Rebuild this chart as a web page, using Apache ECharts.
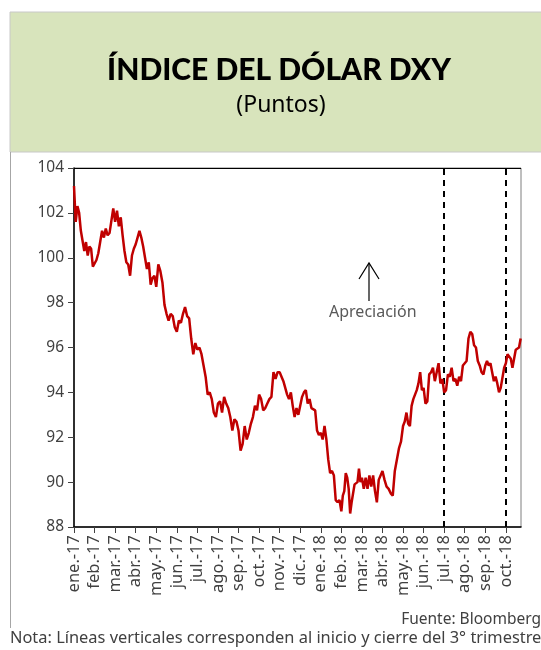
<!DOCTYPE html>
<html>
<head>
<meta charset="utf-8">
<script src="https://cdn.jsdelivr.net/npm/echarts@6/dist/echarts.min.js"></script>
<style>
  html, body { margin: 0; padding: 0; background: #fff; }
  #chart { width: 541px; height: 650px; }
</style>
</head>
<body>
<div id="chart"></div>
<script>
// meses del eje (inicio de cada mes)
const months = ['ene.-17', 'feb.-17', 'mar.-17', 'abr.-17', 'may.-17', 'jun.-17', 'jul.-17', 'ago.-17',
  'sep.-17', 'oct.-17', 'nov.-17', 'dic.-17', 'ene.-18', 'feb.-18', 'mar.-18', 'abr.-18', 'may.-18',
  'jun.-18', 'jul.-18', 'ago.-18', 'sep.-18', 'oct.-18']

// DXY, una fila por mes
const dxy2017 = [
  [103.2, 101.6, 102.3, 102.0, 101.2, 101.2, 100.3, 100.7, 100.1, 100.5, 100.4, 99.6],
  [99.6, 99.9, 100.2, 100.7, 101.2, 100.9, 101.3, 101.0, 101.1, 101.1, 102.2],
  [101.6, 102.1, 101.4, 101.8, 101.0, 100.3, 99.8, 99.7, 99.2, 100.1, 100.4],
  [100.6, 100.9, 101.2, 100.9, 100.5, 100.0, 99.5, 99.8, 98.8, 99.1, 99.2],
  [98.7, 99.7, 99.4, 98.9, 97.9, 97.5, 97.2, 97.5, 97.4, 96.9],
  [96.7, 97.2, 97.1, 97.5, 97.8, 97.4, 97.3, 96.4, 95.7, 96.2],
  [95.9, 96.0, 95.7, 95.2, 94.7, 93.9, 94.0, 93.7, 93.1, 92.9],
  [93.5, 93.6, 93.1, 93.8, 93.5, 93.3, 92.9, 92.3, 92.8, 92.7],
  [92.3, 91.4, 91.7, 92.5, 91.9, 92.2, 92.6, 92.9, 93.4, 93.2],
  [93.9, 93.7, 93.2, 93.3, 93.5, 93.7, 93.8, 94.9, 94.6, 94.9],
  [94.9, 94.9, 94.5, 94.5, 93.9, 93.7, 94.0, 93.4, 92.9, 93.3, 93.0],
  [93.4, 93.8, 94.0, 94.1, 93.5, 93.7, 93.3, 93.3, 93.2, 92.3, 92.1]
]
const dxy2018 = [
  [92.2, 91.9, 92.5, 91.9, 91.0, 90.4, 90.5, 90.3, 89.2, 89.1, 89.2],
  [88.7, 89.4, 89.6, 90.4, 90.2, 89.7, 88.6, 89.1, 89.1, 89.9, 89.9, 90.0, 90.6, 90.0],
  [90.2, 89.7, 90.2, 89.7, 90.3, 89.8, 90.3, 89.6, 89.1, 90.1, 90.1],
  [90.5, 90.1, 89.8, 89.7, 89.5, 89.4, 90.5, 91.0, 91.5, 91.8],
  [92.5, 92.7, 93.1, 92.6, 92.5, 93.4, 93.7, 93.7, 94.1, 94.4, 94.9, 94.1],
  [94.2, 93.5, 93.6, 94.8, 94.9, 95.1, 94.5, 94.9, 95.3, 94.4, 94.6],
  [94.0, 94.1, 94.8, 94.7, 95.1, 94.5, 94.6, 94.3, 94.7, 94.5, 95.2],
  [95.3, 95.4, 96.4, 96.7, 96.6, 96.1, 96.0, 95.4, 95.2, 94.9, 94.8],
  [95.2, 95.4, 95.2, 95.3, 94.9, 94.5, 94.7, 94.4, 94.0, 94.2, 94.2, 95.1],
  [95.3, 95.7, 95.7, 95.5, 95.1, 95.1, 95.9, 95.9, 96.0, 96.4]
]
// octubre 2018 sólo llega hasta ~día 23
const lastMonthSpan = 0.8
// inicio y cierre del 3er trimestre
const quarterMarks = ['jul.-18', 'oct.-18']

const rows = dxy2017.concat(dxy2018)
const seriesData = []
rows.forEach((vals, m) => {
  const span = m === rows.length - 1 ? lastMonthSpan : 1
  vals.forEach((v, j) => {
    seriesData.push([m + (j / vals.length) * span, v])
  })
})
const xMax = rows.length - 1 + lastMonthSpan * 0.92

const chart = echarts.init(document.getElementById('chart'))
chart.setOption({
  animation: false,
  title: [
    {
      text: 'ÍNDICE DEL DÓLAR DXY',
      left: 274,
      top: 50,
      textAlign: 'center',
      textStyle: { fontFamily: 'Lato', fontWeight: 900, fontSize: 30, color: '#000' }
    },
    {
      text: '(Puntos)',
      left: 276,
      top: 89,
      textAlign: 'center',
      textStyle: { fontFamily: 'Noto Sans', fontWeight: 'normal', fontSize: 23, color: '#000' }
    }
  ],
  graphic: [
    {
      type: 'rect',
      z: -10,
      shape: { x: 10, y: 12, width: 540, height: 140 },
      style: { fill: '#D8E4BC', stroke: '#c8c8c8', lineWidth: 1 }
    },
    {
      type: 'line',
      shape: { x1: 10.5, y1: 152, x2: 10.5, y2: 628 },
      style: { stroke: '#a6a6a6', lineWidth: 1 }
    },
    {
      type: 'line',
      shape: { x1: 74, y1: 168.5, x2: 521, y2: 168.5 },
      style: { stroke: '#000', lineWidth: 1 }
    },
    // flecha de apreciación
    {
      type: 'line',
      shape: { x1: 369, y1: 301, x2: 369, y2: 263 },
      style: { stroke: '#000', lineWidth: 1.2 }
    },
    {
      type: 'polyline',
      shape: { points: [[359, 279], [369, 263], [379, 279]] },
      style: { stroke: '#000', lineWidth: 1.2, fill: null }
    },
    {
      type: 'text',
      left: 329,
      top: 304,
      style: { text: 'Apreciación', fontFamily: 'Noto Sans', fontSize: 16, fill: '#595959' }
    },
    {
      type: 'text',
      right: 0,
      top: 612,
      style: { text: 'Fuente: Bloomberg', fontFamily: 'Noto Sans', fontSize: 15.5, fill: '#404040' }
    },
    {
      type: 'text',
      left: 10,
      top: 630,
      style: {
        text: 'Nota: Líneas verticales corresponden al inicio y cierre del 3° trimestre',
        fontFamily: 'Noto Sans', fontSize: 16.4, fill: '#404040'
      }
    }
  ],
  grid: {
    left: 74,
    right: 20,
    top: 168,
    bottom: 123,
    show: true,
    borderColor: '#7f7f7f',
    borderWidth: 1
  },
  xAxis: {
    type: 'value',
    min: 0,
    max: xMax,
    interval: 1,
    splitLine: { show: false },
    axisLine: { lineStyle: { color: '#000', width: 1.5 } },
    axisTick: { length: 6, lineStyle: { color: '#404040' } },
    axisLabel: {
      rotate: 90,
      margin: 8,
      fontFamily: 'Noto Sans',
      fontSize: 16.5,
      color: '#404040',
      showMaxLabel: false,
      formatter: function (v) {
        return Number.isInteger(v) && months[v] ? months[v] : ''
      }
    }
  },
  yAxis: {
    type: 'value',
    min: 88,
    max: 104,
    interval: 2,
    splitLine: { show: false },
    axisLine: { show: true, lineStyle: { color: '#000', width: 1.5 } },
    axisTick: { show: true, length: 6, lineStyle: { color: '#404040' } },
    axisLabel: { fontFamily: 'Noto Sans', fontSize: 15.5, color: '#404040', margin: 10 }
  },
  series: [
    {
      type: 'line',
      data: seriesData,
      showSymbol: false,
      z: 3,
      lineStyle: { color: '#C00000', width: 2.5 },
      markLine: {
        silent: true,
        symbol: 'none',
        z: 1,
        label: { show: false },
        lineStyle: { color: '#000', type: [6, 5], width: 2 },
        data: quarterMarks.map(m => ({ xAxis: months.indexOf(m) }))
      }
    }
  ]
})
</script>
</body>
</html>
